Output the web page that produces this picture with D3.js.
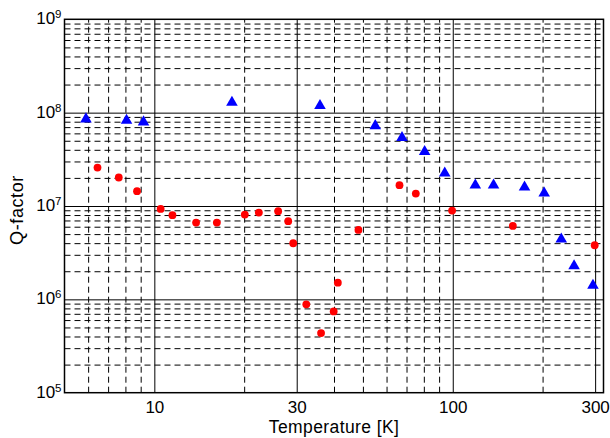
<!DOCTYPE html>
<html>
<head>
<meta charset="utf-8">
<script src="https://cdn.jsdelivr.net/npm/d3@7"></script>
<style>
  html, body { margin: 0; padding: 0; background: #fff; }
  svg { display: block; font-family: "Liberation Sans", Arial, Helvetica, sans-serif; }
</style>
</head>
<body>
<svg id="chart" width="610" height="438"></svg>
<script>
// ---- data ----
const redT = [6.45, 7.6, 8.75, 10.5, 11.5, 13.8, 16.2, 20.1, 22.4, 26.0, 28.1, 29.2, 32.3, 36.2, 39.9, 41.2, 48.3, 66.3, 75.2, 99.5, 159, 299];
const redQ = [2.58e7, 2.02e7, 1.44e7, 9.3e6, 7.97e6, 6.64e6, 6.64e6, 8.09e6, 8.5e6, 8.8e6, 6.87e6, 3.99e6, 8.84e5, 4.35e5, 7.43e5, 1.51e6, 5.54e6, 1.67e7, 1.36e7, 8.93e6, 6.12e6, 3.8e6];
const blueT = [5.9, 8.07, 9.2, 18.2, 35.9, 55.0, 67.6, 80.5, 94.0, 119, 137, 174, 202.5, 231, 255, 295];
const blueQ = [8.54e7, 8.24e7, 7.93e7, 1.29e8, 1.19e8, 7.23e7, 5.38e7, 3.81e7, 2.25e7, 1.67e7, 1.67e7, 1.59e7, 1.37e7, 4.4e6, 2.28e6, 1.41e6];

const xTicks = [10, 30, 100, 300];
const xTickLabels = ["10", "30", "100", "300"];
const xMinor = [6, 7, 8, 9, 20, 40, 50, 60, 70, 80, 90, 200];
const yTicks = [1e5, 1e6, 1e7, 1e8, 1e9];
const yTickExp = ["5", "6", "7", "8", "9"];
const yMajorGrid = [1e6, 1e7, 1e8];
const yMinor = [];
[1e5, 1e6, 1e7, 1e8].forEach(dec => { for (let k = 2; k <= 9; k++) yMinor.push(k * dec); });

const xDomain = [5, 320];
const yDomain = [1e5, 1e9];
const xLabel = "Temperature [K]";
const yLabel = "Q-factor";

// ---- layout ----
const L = 64.5, R = 603.5, T = 19.3, B = 392.7;
const W = R - L, H = B - T;

const svg = d3.select("#chart");
const x = d3.scaleLog().domain(xDomain).range([L, R]);
const y = d3.scaleLog().domain(yDomain).range([B, T]);

// minor grid (dashed)
const gMinX = svg.append("g").attr("transform", `translate(0,${B})`)
  .call(d3.axisBottom(x).tickValues(xMinor).tickSize(-H).tickFormat(""));
gMinX.select(".domain").remove();
gMinX.selectAll("line").attr("stroke", "#000").attr("stroke-width", 1).attr("stroke-dasharray", "6,4");

const gMinY = svg.append("g").attr("transform", `translate(${L},0)`)
  .call(d3.axisLeft(y).tickValues(yMinor).tickSize(-W).tickFormat(""));
gMinY.select(".domain").remove();
gMinY.selectAll("line").attr("stroke", "#000").attr("stroke-width", 1).attr("stroke-dasharray", "6,4");

// major grid (solid)
const gMajX = svg.append("g").attr("transform", `translate(0,${B})`)
  .call(d3.axisBottom(x).tickValues(xTicks).tickSize(-H).tickFormat(""));
gMajX.select(".domain").remove();
gMajX.selectAll("line").attr("stroke", "#000").attr("stroke-width", 1);

const gMajY = svg.append("g").attr("transform", `translate(${L},0)`)
  .call(d3.axisLeft(y).tickValues(yMajorGrid).tickSize(-W).tickFormat(""));
gMajY.select(".domain").remove();
gMajY.selectAll("line").attr("stroke", "#000").attr("stroke-width", 1);

// frame
svg.append("rect").attr("x", L).attr("y", T).attr("width", W).attr("height", H)
  .attr("fill", "none").attr("stroke", "#000").attr("stroke-width", 1.5);

// x tick labels
const gx = svg.append("g").attr("transform", `translate(0,${B})`)
  .call(d3.axisBottom(x).tickValues(xTicks).tickSize(0).tickPadding(8)
    .tickFormat((d, i) => xTickLabels[i]));
gx.select(".domain").remove();
gx.selectAll("text").attr("font-size", 17).attr("fill", "#000")
  .attr("font-family", "'Liberation Sans', Arial, sans-serif");

// y tick labels with superscripts
const gy = svg.append("g").attr("transform", `translate(${L},0)`)
  .call(d3.axisLeft(y).tickValues(yTicks).tickSize(0).tickPadding(3).tickFormat(""));
gy.select(".domain").remove();
gy.selectAll("text").each(function(d, i) {
  const t = d3.select(this).attr("dy", null).attr("y", 4.5)
    .attr("font-family", "'Liberation Sans', Arial, sans-serif").attr("fill", "#000");
  t.append("tspan").attr("font-size", 17).text("10");
  t.append("tspan").attr("font-size", 11.5).attr("dy", -6).text(yTickExp[i]);
});

// axis titles
svg.append("text").attr("x", (L + R) / 2).attr("y", 433).attr("text-anchor", "middle")
  .attr("font-size", 17.5).attr("letter-spacing", 0.4).text(xLabel);
svg.append("text").attr("transform", `translate(23,${(T + B) / 2 + 4}) rotate(-90)`)
  .attr("text-anchor", "middle").attr("font-size", 18).attr("letter-spacing", 0.6).text(yLabel);

// markers
svg.append("g").selectAll("circle").data(redT).join("circle")
  .attr("cx", d => x(d)).attr("cy", (d, i) => y(redQ[i])).attr("r", 3.9).attr("fill", "#ff0000");

const tri = d3.symbol().type(d3.symbolTriangle).size(58);
svg.append("g").selectAll("path").data(blueT).join("path")
  .attr("d", tri).attr("fill", "#0000ff")
  .attr("transform", (d, i) => `translate(${x(d)},${y(blueQ[i])})`);
</script>
</body>
</html>
